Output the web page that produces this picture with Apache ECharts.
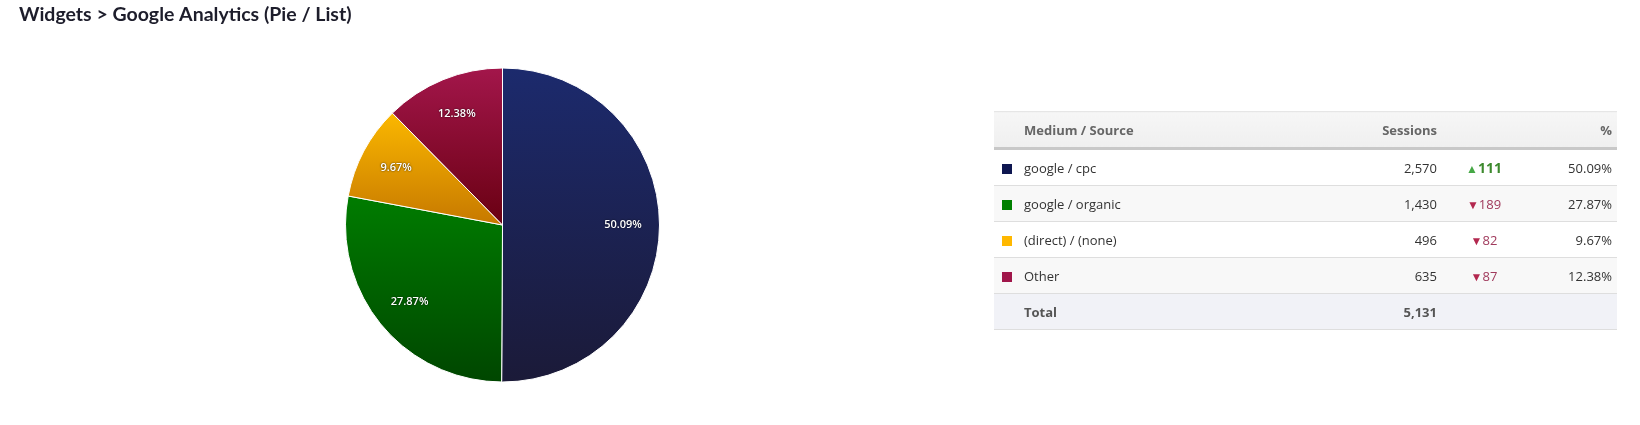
<!DOCTYPE html>
<html>
<head>
<meta charset="utf-8">
<script src="https://cdn.jsdelivr.net/npm/echarts@6/dist/echarts.min.js"></script>
<style>
  html, body { margin:0; padding:0; background:#fff; overflow:hidden; }
  #wrap { position:relative; width:1640px; height:425px; }
  #chart { position:absolute; left:0; top:0; width:1640px; height:425px; }
  #tbl { position:absolute; left:994px; top:111px; width:623px; border-collapse:collapse; table-layout:fixed;
         font-family:"Open Sans", sans-serif; font-size:13px; color:#333; }
  #tbl th { height:35px; font-weight:bold; color:#666; padding:0;
            background:linear-gradient(#f6f6f6,#efefef); border-top:1px solid #e6e6e6;
            border-bottom:3px solid #c8c8c8; }
  #tbl td { height:35px; padding:0; border-bottom:1px solid #dedede; }
  #tbl tr.alt td { background:#f8f8f8; }
  #tbl tr.tot td { background:#f1f2f7; font-weight:bold; color:#555; }
  .sq { display:inline-block; width:10px; height:10px; margin-left:8px; vertical-align:middle; }
  .r { text-align:right; }
  .c { text-align:center; }
  .up { color:#3d8a2e; font-weight:bold; font-size:14px; }
  .up i { color:#45a845; font-style:normal; font-size:12px; }
  .dn { color:#a03a5c; }
  .dn i { color:#b3284f; font-style:normal; font-size:12px; }
</style>
</head>
<body>
<div id="wrap">
  <div id="chart"></div>
  <table id="tbl"></table>
</div>
<script>
const title = 'Widgets > Google Analytics (Pie / List)';
const categories = ['google / cpc', 'google / organic', '(direct) / (none)', 'Other'];
const sessions = [2570, 1430, 496, 635];
const changes = [111, -189, -82, -87];
const percentLabels = ['50.09%', '27.87%', '9.67%', '12.38%'];
const totalLabel = '5,131';
const headers = ['Medium / Source', 'Sessions', '%'];

const swatch = ['#0e1650', '#008000', '#ffb800', '#a0164a'];
const grads = [
  ['#1c2a6d', '#1b1a38'],
  ['#007c00', '#004600'],
  ['#fbb800', '#c67800'],
  ['#a3164b', '#690012']
];

const fmt = n => n.toLocaleString('en-US');

// table
let html = '<colgroup><col style="width:30px"><col><col style="width:130px"><col style="width:94px"><col style="width:86px"></colgroup>';
html += '<tr><th></th><th style="text-align:left">' + headers[0] +
  '</th><th class="r">' + headers[1] + '</th><th></th><th class="r" style="padding-right:5px">' + headers[2] + '</th></tr>';
categories.forEach((c, i) => {
  const ch = changes[i];
  const chHtml = ch >= 0 ? '<span class="up"><i>&#9650;</i>' + ch + '</span>'
                         : '<span class="dn"><i>&#9660;</i>' + (-ch) + '</span>';
  html += '<tr class="' + (i % 2 ? 'alt' : '') + '"><td><span class="sq" style="background:' + swatch[i] + '"></span></td><td>' + c +
    '</td><td class="r">' + fmt(sessions[i]) + '</td><td class="c">' + chHtml +
    '</td><td class="r" style="padding-right:5px">' + percentLabels[i] + '</td></tr>';
});
html += '<tr class="tot"><td></td><td>Total</td><td class="r">' + totalLabel + '</td><td></td><td></td></tr>';
document.getElementById('tbl').innerHTML = html;

const chart = echarts.init(document.getElementById('chart'));
const pieData = categories.map((c, i) => ({
  name: c, value: sessions[i],
  itemStyle: { color: new echarts.graphic.LinearGradient(0, 0, 0, 1, [
    { offset: 0, color: grads[i][0] }, { offset: 1, color: grads[i][1] }]) }
}));
chart.setOption({
  animation: false,
  title: {
    text: title, left: 14, top: 0,
    textStyle: { fontFamily: 'Lato', fontWeight: 'bold', fontSize: 19.5, color: '#1d1d2b' }
  },
  series: [
    {
      type: 'pie', center: [502.5, 225], radius: [0, 157],
      startAngle: 90, clockwise: true,
      itemStyle: { borderColor: '#fff', borderWidth: 1 },
      label: { show: false }, labelLine: { show: false },
      emphasis: { disabled: true },
      data: pieData
    },
    {
      type: 'pie', center: [502.5, 225], radius: [78, 157],
      startAngle: 90, clockwise: true, silent: true,
      itemStyle: { color: 'rgba(0,0,0,0)' },
      labelLine: { show: false },
      label: {
        show: true, position: 'inside',
        formatter: p => percentLabels[p.dataIndex],
        color: '#fff', fontFamily: 'Open Sans', fontWeight: 600, fontSize: 11,
        textShadowColor: 'rgba(0,0,0,0.8)', textShadowBlur: 2
      },
      data: categories.map((c, i) => ({ name: c, value: sessions[i] }))
    }
  ]
});
</script>
</body>
</html>
